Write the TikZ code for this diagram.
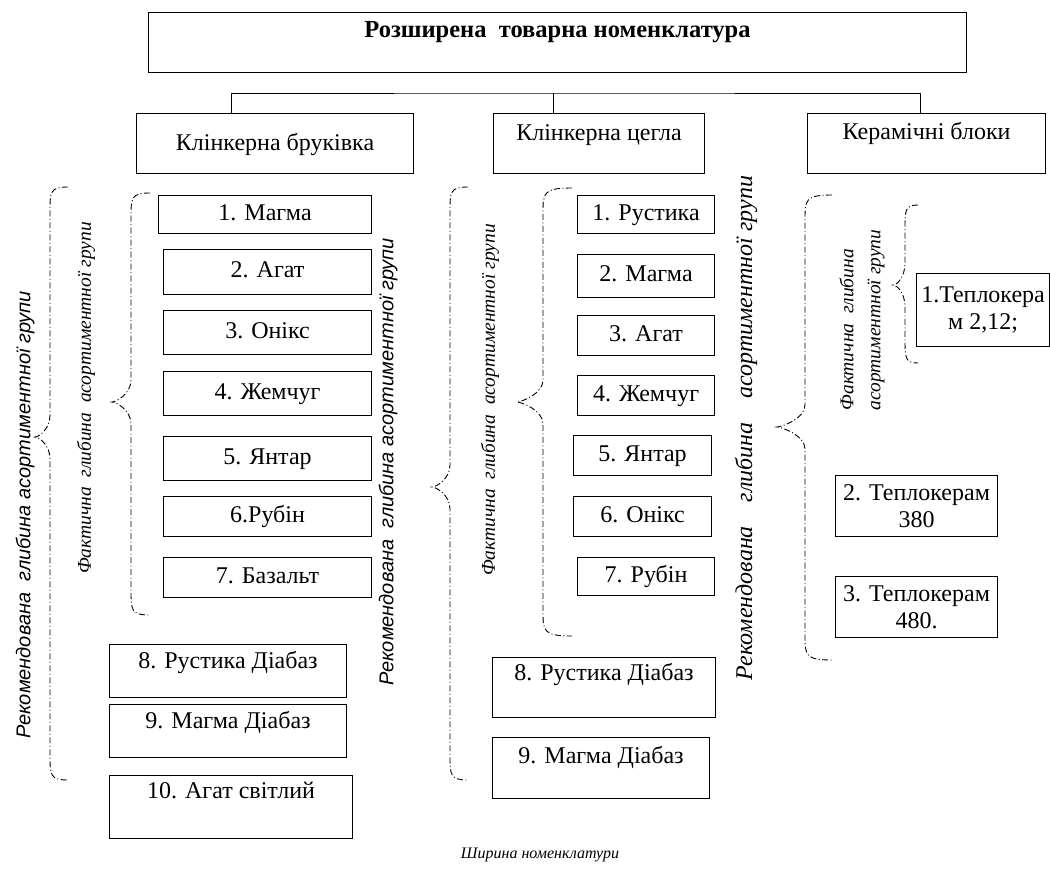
\documentclass[tikz,border=0pt]{standalone}
\usepackage{fontspec}
\setmainfont{Liberation Serif}
\setsansfont{Liberation Sans}
% curly bracket: tip x, line x, cusp x, top y, middle y, bottom y
\newcommand{\curlybrace}[6]{%
  \draw[curly] (#1,#4) .. controls (#2,#4) and (#2,{#4+5}) .. (#2,{#4+25})
    -- (#2,{#5-22}) .. controls (#2,{#5-8}) and ({#3+4},#5) .. (#3,#5)
    .. controls ({#3+4},#5) and (#2,{#5+8}) .. (#2,{#5+22})
    -- (#2,{#6-25}) .. controls (#2,{#6-5}) and (#2,#6) .. (#1,#6);}
\begin{document}
\begin{tikzpicture}[x=1pt,y=-1pt,
  cell/.style={draw, line width=1.1pt, anchor=north west, inner sep=0pt, align=center,
    font=\fontsize{24}{27}\selectfont},
  item/.style={cell, text height=17pt, text depth=6pt},
  curly/.style={line width=0.9pt, dash pattern=on 6pt off 2.5pt on 1pt off 2.5pt},
  vsans/.style={rotate=90, font=\sffamily\itshape\fontsize{20}{22}\selectfont},
  vital/.style={rotate=90, font=\itshape\fontsize{19.5}{27}\selectfont}]
  \useasboundingbox (0,0) rectangle (1050,881);

  % top level and the three groups
  \node[cell, minimum width=818pt, minimum height=60pt, text height=25pt, text depth=35pt,
    font=\bfseries\fontsize{24.5}{27}\selectfont] (top) at (148,12) {Розширена\ \ товарна номенклатура};
  \node[cell, minimum width=277pt, minimum height=60pt, text height=37pt, text depth=23pt] (g1) at (136,113) {Клінкерна бруківка};
  \node[cell, minimum width=211pt, minimum height=60pt, text height=27pt, text depth=33pt] (g2) at (493,113) {Клінкерна цегла};
  \node[cell, minimum width=238pt, minimum height=60pt, text height=26pt, text depth=34pt] (g3) at (807,113) {Керамічні блоки};

  \coordinate (bus) at (553,93);
  \draw[line width=1pt] ([xshift=-43.5pt]g1.north) |- (bus) -| ([xshift=-6pt]g3.north);
  \draw[line width=1pt] (bus) -- (bus |- g2.north);

  % Клінкерна бруківка
  \foreach \i/\txt/\x/\y/\w/\h in {1/{1. Магма}/158/195/213/38, 2/{2. Агат}/163/249/208/45,
      3/{3. Онікс}/163/310/208/44, 4/{4. Жемчуг}/163/371/208/44, 5/{5. Янтар}/163/436/208/44,
      6/{6.Рубін}/163/496/208/40, 7/{7. Базальт}/163/557/208/40}
    \node[item, minimum width=\w pt, minimum height=\h pt] (a\i) at (\x,\y) {\txt};
  \node[cell, minimum width=237pt, minimum height=53pt, text height=24pt, text depth=29pt] (a8) at (109,644) {8. Рустика Діабаз};
  \node[cell, minimum width=237pt, minimum height=53pt, text height=24pt, text depth=29pt] (a9) at (109,704) {9. Магма Діабаз};
  \node[cell, minimum width=243pt, minimum height=63pt, text height=23pt, text depth=40pt] (a10) at (109,775) {10. Агат світлий};

  \curlybrace{68}{50}{35}{187}{437}{780}
  \curlybrace{150}{131}{112}{193}{402}{615}
  \node[vsans] (rec1) at (25,515) {Рекомендована\ \ глибина асортиментної групи};
  \node[vital] (fact1) at (86,398) {Фактична\ \ глибина\ \ асортиментної групи};

  % Клінкерна цегла
  \foreach \i/\txt/\x/\y/\w/\h in {1/{1. Рустика}/577/195/137/38, 2/{2. Магма}/577/254/137/43,
      3/{3. Агат}/577/315/137/40, 4/{4. Жемчуг}/577/375/137/40, 5/{5. Янтар}/573/435/138/40,
      6/{6. Онікс}/573/496/138/40, 7/{7. Рубін}/577/557/137/38}
    \node[item, minimum width=\w pt, minimum height=\h pt] (b\i) at (\x,\y) {\txt};
  \node[cell, minimum width=223pt, minimum height=60pt, text height=23pt, text depth=37pt] (b8) at (492,657) {8. Рустика Діабаз};
  \node[cell, minimum width=217pt, minimum height=61pt, text height=26pt, text depth=35pt] (b9) at (492,737) {9. Магма Діабаз};

  \curlybrace{468}{450}{432}{187}{487}{780}
  \curlybrace{572}{543}{517}{188}{402}{636}
  \node[vsans] (rec2) at (388,462) {Рекомендована\ \ глибина асортиментної групи};
  \node[vital] (fact2) at (490,400) {Фактична\ \ глибина\ \ асортиментної групи};

  % Керамічні блоки
  \node[cell, minimum width=133pt, minimum height=73pt] (c1) at (916,273) {1.Теплокера\\м 2,12;};
  \node[cell, minimum width=162pt, minimum height=61pt] (c2) at (835,475) {2. Теплокерам\\380};
  \node[cell, minimum width=162pt, minimum height=61pt] (c3) at (835,576) {3. Теплокерам\\480.};

  \curlybrace{832}{805}{777}{195}{427}{660}
  \curlybrace{918}{905}{893}{205}{285}{363}
  \node[rotate=90, font=\itshape\fontsize{24}{26}\selectfont] (rec3) at (746,428) {Рекомендована\quad глибина\quad асортиментної групи};
  \node[vital, align=left] (fact3) at (862,320) {Фактична\ \ глибина\\асортиментної групи};

  \node[font=\itshape\fontsize{16}{20}\selectfont] (width) at (540,855) {Ширина номенклатури};
\end{tikzpicture}
\end{document}
